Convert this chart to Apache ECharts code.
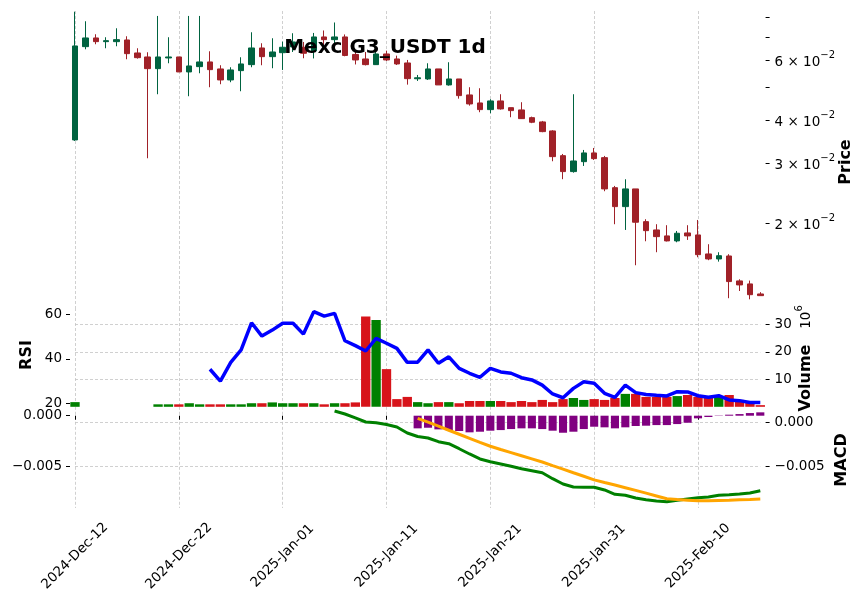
<!DOCTYPE html>
<html><head><meta charset="utf-8">
<script src="https://cdn.jsdelivr.net/npm/echarts@6/dist/echarts.min.js"></script>
<style>html,body{margin:0;padding:0;background:#fff}#c{width:865px;height:599px}</style>
</head><body><div id="c"></div>
<script>
// ---------- categories ----------
const monthNames = ['Jan','Feb','Mar','Apr','May','Jun','Jul','Aug','Sep','Oct','Nov','Dec'];
const dayCount = 67;
const dates = [];
for (let i = 0; i < dayCount; i++) {
  const d = new Date(Date.UTC(2024, 11, 12 + i));
  dates.push(d.getUTCFullYear() + '-' + monthNames[d.getUTCMonth()] + '-' + String(d.getUTCDate()).padStart(2, '0'));
}
// ---------- price (OHLC) ----------
const opens  = [0.03503,0.06562,0.06957,0.06786,0.06786,0.06864,0.06289,0.06122,0.05659,0.06081,
                0.06122,0.05535,0.05736,0.05920,0.05648,0.05245,0.05584,0.05814,0.06504,0.06135,
                0.06301,0.06549,0.06535,0.06374,0.07004,0.06878,0.07004,0.06226,0.06040,0.05814,
                0.06247,0.06040,0.05880,0.05287,0.05280,0.05648,0.05072,0.05280,0.04742,0.04493,
                0.04296,0.04554,0.04353,0.04287,0.04070,0.03955,0.03722,0.03152,0.02831,0.03027,
                0.03210,0.03110,0.02541,0.02237,0.02520,0.02022,0.01912,0.01837,0.01776,0.01874,
                0.01849,0.01627,0.01573,0.01605,0.01357,0.01330,0.01243];
const highs  = [0.08303,0.07784,0.07132,0.06990,0.07425,0.07037,0.06491,0.06319,0.08067,0.06990,
                0.06122,0.08067,0.08067,0.06361,0.05790,0.05713,0.06110,0.07228,0.06713,0.06943,
                0.06786,0.07181,0.06772,0.07195,0.07316,0.07720,0.07123,0.06396,0.06331,0.06361,
                0.06387,0.06176,0.06000,0.05424,0.05868,0.05648,0.05908,0.05280,0.04994,0.04960,
                0.04607,0.04764,0.04353,0.04515,0.04098,0.03981,0.03740,0.03188,0.04764,0.03275,
                0.03319,0.03146,0.02571,0.02689,0.02520,0.02055,0.01987,0.01974,0.01899,0.01974,
                0.02045,0.01737,0.01646,0.01624,0.01372,0.01360,0.01258];
const lows   = [0.03480,0.06447,0.06668,0.06491,0.06579,0.06028,0.06053,0.03097,0.04764,0.05868,
                0.05535,0.04701,0.05486,0.04994,0.05096,0.05165,0.04861,0.05713,0.05790,0.05675,
                0.05610,0.06331,0.06069,0.06062,0.06562,0.06417,0.06150,0.05821,0.05783,0.05802,
                0.05960,0.05802,0.05082,0.05210,0.05245,0.05072,0.05048,0.04625,0.04412,0.04221,
                0.04193,0.04296,0.04081,0.04035,0.03922,0.03690,0.03035,0.02690,0.02811,0.02941,
                0.03062,0.02481,0.01987,0.01912,0.01508,0.01772,0.01646,0.01770,0.01760,0.01788,
                0.01591,0.01560,0.01545,0.01208,0.01268,0.01199,0.01229];
const closes = [0.06593,0.06957,0.06786,0.06832,0.06878,0.06260,0.06093,0.05659,0.06122,0.06122,
                0.05535,0.05763,0.05920,0.05621,0.05245,0.05610,0.05841,0.06504,0.06135,0.06331,
                0.06535,0.06772,0.06276,0.07004,0.06878,0.07004,0.06184,0.06000,0.05814,0.06247,
                0.06000,0.05841,0.05291,0.05322,0.05648,0.05072,0.05280,0.04720,0.04463,0.04296,
                0.04554,0.04316,0.04267,0.04043,0.03946,0.03705,0.03131,0.02831,0.03041,0.03210,
                0.03089,0.02520,0.02237,0.02520,0.02014,0.01903,0.01828,0.01776,0.01870,0.01837,
                0.01619,0.01573,0.01608,0.01351,0.01321,0.01237,0.01229];
// ---------- volume (millions) ----------
const volumeM = [1.7,0,0,0,0,0,0,0,0.9,0.9,
                 0.9,1.3,0.9,0.9,0.9,0.9,0.9,1.3,1.3,1.6,
                 1.3,1.3,1.3,1.3,0.9,1.3,1.3,1.6,32.8,31.6,
                 13.7,2.8,3.6,1.7,1.3,1.7,1.7,1.3,2.1,2.1,
                 2.1,2.1,1.7,2.1,1.7,2.5,1.7,2.8,3.2,2.5,
                 2.8,2.5,3.2,4.7,4.7,3.6,3.6,3.6,3.9,4.3,
                 3.6,3.6,3.6,4.3,2.5,2.1,0.6];
// ---------- RSI (starts at index 13) ----------
const rsiStart = 13;
const rsiValues = [35.3,30.0,38.4,44.0,56.2,50.2,52.9,56.0,56.0,51.1,
                   61.2,59.2,60.4,48.1,45.9,43.5,49.2,47.0,44.7,38.4,
                   38.5,44.0,38.0,40.9,35.7,33.5,31.7,35.7,34.1,33.5,
                   31.5,30.5,28.2,24.2,22.5,26.7,29.7,29.0,24.5,22.7,
                   28.2,24.8,24.0,23.6,23.3,25.2,25.1,23.4,22.7,23.4,
                   21.5,21.2,20.4,20.4];
// ---------- MACD ----------
const macdStart = 25;
const macdValues = [0.00134,0.00099,0.00054,0.00008,0.00000,-0.00020,-0.00049,-0.00118,-0.00158,-0.00175,
                    -0.00217,-0.00240,-0.00297,-0.00357,-0.00414,-0.00445,-0.00471,-0.00498,-0.00525,-0.00548,
                    -0.00571,-0.00639,-0.00700,-0.00734,-0.00737,-0.00737,-0.00768,-0.00817,-0.00829,-0.00860,
                    -0.00879,-0.00894,-0.00902,-0.00886,-0.00871,-0.00856,-0.00848,-0.00829,-0.00822,-0.00814,
                    -0.00803,-0.00776];
const signalStart = 33;
const signalValues = [0.00050,0.00006,-0.00040,-0.00086,-0.00132,-0.00178,-0.00224,-0.00269,-0.00306,-0.00341,
                      -0.00377,-0.00413,-0.00449,-0.00490,-0.00530,-0.00571,-0.00611,-0.00653,-0.00683,-0.00712,
                      -0.00742,-0.00772,-0.00804,-0.00836,-0.00868,-0.00878,-0.00885,-0.00892,-0.00892,-0.00888,
                      -0.00885,-0.00880,-0.00877,-0.00872];
const histStart = 33;
const histValues = [-0.00124,-0.00118,-0.00134,-0.00141,-0.00150,-0.00163,-0.00157,-0.00147,-0.00141,-0.00131,
                    -0.00124,-0.00124,-0.00131,-0.00147,-0.00167,-0.00157,-0.00131,-0.00108,-0.00114,-0.00124,
                    -0.00114,-0.00101,-0.00098,-0.00092,-0.00092,-0.00082,-0.00069,-0.00026,-0.00013,0.00003,
                    0.00010,0.00016,0.00026,0.00033];
// ---------- ticks ----------
const priceTicks = [0.02,0.03,0.04,0.05,0.06,0.07,0.08];
const priceLabelTicks = [0.02,0.03,0.04,0.06];
const rsiTicks = [20,40,60];
const volumeTicks = [10,20,30];
const macdTicks = [-0.005,0];
const tickEvery = 10;

function padSeries(start, vals) {
  const out = dates.map(() => null);
  vals.forEach((v, i) => { out[start + i] = v; });
  return out;
}

const FONT = '"DejaVu Sans", sans-serif';
const UP = '#006340', DOWN = '#a02128';
const VUP = '#008000', VDOWN = '#d7141a';
const GRIDC = '#c4c4c4';
const L = 75, W = 685.3, OFF_L = 5, OFF_R = 5.3;

const chart = echarts.init(document.getElementById('c'), null, {renderer: 'canvas'});

function xAx(gi, bottom) {
  return {
    type: 'category', gridIndex: gi, data: dates, boundaryGap: false,
    axisLine: {show: false},
    axisTick: bottom ? {show: true, interval: tickEvery - 1, length: 4, lineStyle: {color: '#000', width: 1}} : {show: false},
    axisLabel: bottom ? {show: true, interval: tickEvery - 1, rotate: 45, align: 'center', verticalAlign: 'middle',
      margin: 48, fontSize: 13.5, fontFamily: FONT, color: '#000'} : {show: false},
    splitLine: {show: true, interval: tickEvery - 1, lineStyle: {color: GRIDC, width: 0.8, type: [3, 2]}}
  };
}
const minusFmt = (v) => v.toFixed(3).replace('-', '\u2212');

const option = {
  animation: false,
  backgroundColor: '#fff',
  title: {
    text: 'Mexc G3_USDT 1d', left: 380, top: 33, textAlign: 'center',
    textStyle: {fontSize: 20, fontWeight: 'bold', fontFamily: FONT, color: '#000'}
  },
  grid: [
    {left: L, width: W, top: 11, height: 297},
    {left: L, width: W, top: 308, height: 98.8},
    {left: L, width: W, top: 406.8, height: 101.2}
  ],
  xAxis: [xAx(0, false), xAx(1, false), xAx(2, true)],
  yAxis: [
    {type: 'log', logBase: 10, gridIndex: 0, position: 'right', offset: OFF_R, min: 0.01131, max: 0.0834,
      axisLine: {show: false},
      axisTick: {show: true, customValues: priceTicks, length: 4, lineStyle: {color: '#000'}},
      axisLabel: {customValues: priceLabelTicks, margin: 9, color: '#000',
        formatter: (v) => {
          const e = Math.floor(Math.log10(v) + 1e-9);
          const m = Math.round(v / Math.pow(10, e));
          return '{a|' + m + ' \u00d7 10}{s|\u2212' + (-e) + '}';
        },
        rich: {
          a: {fontSize: 13.5, fontFamily: FONT, color: '#000', lineHeight: 19, verticalAlign: 'bottom'},
          s: {fontSize: 10, fontFamily: FONT, color: '#000', lineHeight: 12, verticalAlign: 'top'}
        }},
      splitLine: {show: false}},
    {type: 'value', gridIndex: 1, position: 'left', offset: OFF_L, min: 18.43, max: 62.83,
      axisLine: {show: false},
      axisTick: {show: true, customValues: rsiTicks, length: 4, lineStyle: {color: '#000'}},
      axisLabel: {customValues: rsiTicks, margin: 8, fontSize: 13.5, fontFamily: FONT, color: '#000'},
      splitLine: {show: false}},
    {type: 'value', gridIndex: 1, position: 'right', offset: OFF_R, min: 0, max: 35.93,
      axisLine: {show: false},
      axisTick: {show: true, customValues: volumeTicks, length: 4, lineStyle: {color: '#000'}},
      axisLabel: {customValues: volumeTicks, margin: 9, fontSize: 13.5, fontFamily: FONT, color: '#000'},
      splitLine: {show: true, lineStyle: {color: GRIDC, width: 0.8, type: [3, 2]}}},
    {type: 'value', gridIndex: 2, position: 'left', offset: OFF_L, min: -0.009049, max: 0.000873,
      axisLine: {show: false},
      axisTick: {show: true, customValues: macdTicks, length: 4, lineStyle: {color: '#000'}},
      axisLabel: {customValues: macdTicks, margin: 8, fontSize: 13.5, fontFamily: FONT, color: '#000', formatter: minusFmt},
      splitLine: {show: false}},
    {type: 'value', gridIndex: 2, position: 'right', offset: OFF_R, min: -0.009737, max: 0.001815,
      axisLine: {show: false},
      axisTick: {show: true, customValues: macdTicks, length: 4, lineStyle: {color: '#000'}},
      axisLabel: {customValues: macdTicks, margin: 9, fontSize: 13.5, fontFamily: FONT, color: '#000', formatter: minusFmt},
      splitLine: {show: true, lineStyle: {color: GRIDC, width: 0.8, type: [3, 2]}}}
  ],
  series: [
    {type: 'candlestick', xAxisIndex: 0, yAxisIndex: 0, barWidth: 6, clip: false,
      data: dates.map((_, i) => [opens[i], closes[i], lows[i], highs[i]]),
      itemStyle: {color: UP, color0: DOWN, borderColor: UP, borderColor0: DOWN, borderWidth: 1}},
    {type: 'bar', xAxisIndex: 1, yAxisIndex: 2, barWidth: '90%', clip: false, data: volumeM,
      itemStyle: {color: (p) => closes[p.dataIndex] >= opens[p.dataIndex] ? VUP : VDOWN}},
    {type: 'line', xAxisIndex: 1, yAxisIndex: 1, data: padSeries(rsiStart, rsiValues), showSymbol: false,
      symbol: 'none', lineStyle: {color: '#0000ff', width: 3.5}, z: 5},
    {type: 'bar', xAxisIndex: 2, yAxisIndex: 3, barWidth: '78%', clip: false, data: padSeries(histStart, histValues),
      itemStyle: {color: '#800080'}},
    {type: 'line', xAxisIndex: 2, yAxisIndex: 4, data: padSeries(macdStart, macdValues), symbol: 'none',
      lineStyle: {color: '#008000', width: 3}, z: 5},
    {type: 'line', xAxisIndex: 2, yAxisIndex: 4, data: padSeries(signalStart, signalValues), symbol: 'none',
      lineStyle: {color: '#ffa500', width: 3}, z: 5}
  ],
  graphic: [
    {type: 'text', x: 846, y: 162, rotation: Math.PI / 2,
      style: {text: 'Price', fontSize: 16, fontWeight: 'bold', fontFamily: FONT, fill: '#000', align: 'center', verticalAlign: 'middle'}},
    {type: 'text', x: 27, y: 355, rotation: Math.PI / 2,
      style: {text: 'RSI', fontSize: 16, fontWeight: 'bold', fontFamily: FONT, fill: '#000', align: 'center', verticalAlign: 'middle'}},
    {type: 'text', x: 806, y: 378, rotation: Math.PI / 2,
      style: {text: 'Volume', fontSize: 16, fontWeight: 'bold', fontFamily: FONT, fill: '#000', align: 'center', verticalAlign: 'middle'}},
    {type: 'text', x: 842, y: 460, rotation: Math.PI / 2,
      style: {text: 'MACD', fontSize: 16, fontWeight: 'bold', fontFamily: FONT, fill: '#000', align: 'center', verticalAlign: 'middle'}},
    {type: 'text', x: 804, y: 317, rotation: Math.PI / 2,
      style: {text: '{a|10}{s|6}', align: 'center', verticalAlign: 'middle',
        rich: {a: {fontSize: 13.5, fontFamily: FONT, fill: '#000', lineHeight: 19, verticalAlign: 'bottom'},
               s: {fontSize: 10, fontFamily: FONT, fill: '#000', lineHeight: 12, verticalAlign: 'top'}}}}
  ]
};
chart.setOption(option);
</script>
</body></html>
